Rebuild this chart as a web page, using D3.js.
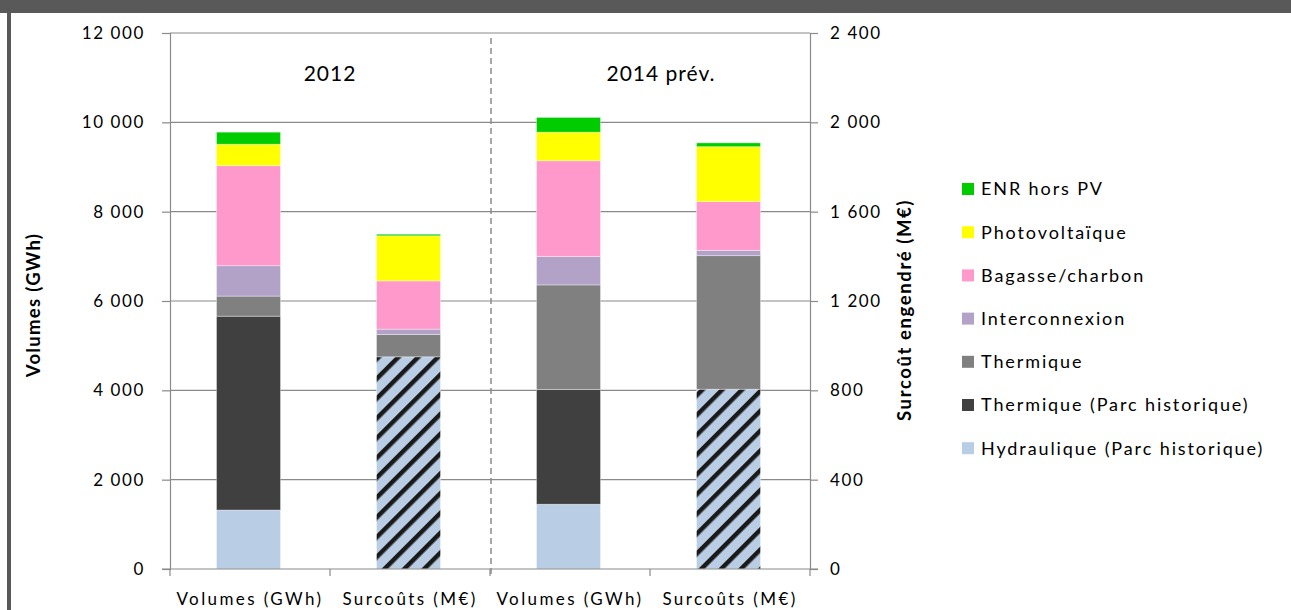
<!DOCTYPE html>
<html>
<head>
<meta charset="utf-8">
<script src="https://cdn.jsdelivr.net/npm/d3@7"></script>
<style>
  html, body { margin: 0; padding: 0; background: #fff; }
  svg { display: block; font-family: Lato, "Open Sans", sans-serif; }
</style>
</head>
<body>
<svg id="chart" width="1291" height="610"></svg>
<script>
// Column categories: volumes on the left axis, extra costs on the right axis
const categories = ["Volumes (GWh)", "Surcoûts (M€)", "Volumes (GWh)", "Surcoûts (M€)"];
const groups = ["2012", "2014 prév."];

// Stacked segments, bottom to top (GWh for volume columns, M€ for cost columns)
const hydraulique     = [1320,   0, 1450,   0];
const thermiqueHist   = [4340,   0, 2570,   0];
const parcHistorique  = [   0, 950,    0, 805];
const thermique       = [ 450, 100, 2340, 598];
const interconnexion  = [ 680,  24,  640,  24];
const bagasse         = [2240, 216, 2140, 218];
const photovoltaique  = [ 480, 202,  640, 246];
const enrHorsPV       = [ 270,   7,  330,  17];

const leftTicks  = [0, 2000, 4000, 6000, 8000, 10000, 12000];
const rightTicks = [0, 400, 800, 1200, 1600, 2000, 2400];

const seriesDefs = [
  { key: "hydraulique",    label: "Hydraulique (Parc historique)", color: "#b9cde5", values: hydraulique },
  { key: "thermiqueHist",  label: "Thermique (Parc historique)",   color: "#404040", values: thermiqueHist },
  { key: "parcHistorique", label: null,                            color: "url(#hatch)", values: parcHistorique },
  { key: "thermique",      label: "Thermique",                     color: "#808080", values: thermique },
  { key: "interconnexion", label: "Interconnexion",                color: "#b2a2c7", values: interconnexion },
  { key: "bagasse",        label: "Bagasse/charbon",               color: "#ff99cc", values: bagasse },
  { key: "photovoltaique", label: "Photovoltaïque",                color: "#ffff00", values: photovoltaique },
  { key: "enrHorsPV",      label: "ENR hors PV",                   color: "#00cc00", values: enrHorsPV }
];

const rows = categories.map((c, i) => {
  const r = { idx: i, cat: c };
  seriesDefs.forEach(s => r[s.key] = s.values[i]);
  return r;
});

const svg = d3.select("#chart");
const W = 1291, H = 610;
const plot = { left: 170, right: 810, top: 33, bottom: 569 };

// Frame
svg.append("rect").attr("x", 0).attr("y", 0).attr("width", W).attr("height", 13).attr("fill", "#595959");
svg.append("rect").attr("x", 7).attr("y", 0).attr("width", 4).attr("height", H).attr("fill", "#595959");

// Hatch pattern for the historical fleet cost
const defs = svg.append("defs");
const pat = defs.append("pattern")
  .attr("id", "hatch")
  .attr("patternUnits", "userSpaceOnUse")
  .attr("width", 14).attr("height", 14)
  .attr("patternTransform", "rotate(45)");
pat.append("rect").attr("width", 14).attr("height", 14).attr("fill", "#b9cde5");
pat.append("rect").attr("x", 0).attr("width", 4.5).attr("height", 14).attr("fill", "#1a1a1a");

const x = d3.scaleBand().domain(d3.range(categories.length))
  .range([plot.left, plot.right]).paddingInner(0.6).paddingOuter(0.3);
const band = d3.scaleBand().domain(d3.range(categories.length)).range([plot.left, plot.right]);
const yL = d3.scaleLinear().domain([0, 12000]).range([plot.bottom, plot.top]);
const yR = d3.scaleLinear().domain([0, 2400]).range([plot.bottom, plot.top]);
const yFor = i => (i % 2 === 0 ? yL : yR);

const fmt = v => d3.format(",")(v).replace(/,/g, " ");
const gridColor = "#8a8a8a";

// Gridlines
svg.append("g").selectAll("line").data(leftTicks.slice(1)).join("line")
  .attr("x1", plot.left).attr("x2", plot.right)
  .attr("y1", d => yL(d)).attr("y2", d => yL(d))
  .attr("stroke", gridColor).attr("stroke-width", 1.2);

// Left axis
const axL = svg.append("g").attr("transform", `translate(${plot.left},0)`)
  .call(d3.axisLeft(yL).tickValues(leftTicks).tickFormat(fmt).tickSize(8).tickPadding(17));
axL.select(".domain").attr("stroke", gridColor).attr("stroke-width", 1.2);
axL.selectAll(".tick line").attr("stroke", gridColor).attr("stroke-width", 1.2);
axL.selectAll("text").attr("font-size", 17).attr("fill", "#000")
  .attr("font-family", "Lato").style("letter-spacing", "1.6px");

// Right axis
const axR = svg.append("g").attr("transform", `translate(${plot.right},0)`)
  .call(d3.axisRight(yR).tickValues(rightTicks).tickFormat(fmt).tickSize(8).tickPadding(12));
axR.select(".domain").attr("stroke", gridColor).attr("stroke-width", 1.2);
axR.selectAll(".tick line").attr("stroke", gridColor).attr("stroke-width", 1.2);
axR.selectAll("text").attr("font-size", 17).attr("fill", "#000")
  .attr("font-family", "Lato").style("letter-spacing", "1.6px");

// Bars
const stack = d3.stack().keys(seriesDefs.map(s => s.key));
const stacked = stack(rows);
svg.append("g").selectAll("g").data(stacked).join("g")
  .attr("fill", (d, i) => seriesDefs[i].color)
  .selectAll("rect").data(d => d.filter(p => p[1] - p[0] > 0)).join("rect")
  .attr("x", p => x(p.data.idx) - 1.5)
  .attr("width", x.bandwidth())
  .attr("y", p => yFor(p.data.idx)(p[1]))
  .attr("height", p => yFor(p.data.idx)(p[0]) - yFor(p.data.idx)(p[1]))
  .attr("stroke", "rgba(255,255,255,0.45)").attr("stroke-width", 0.8);

// Bottom axis with category ticks
const axB = svg.append("g").attr("transform", `translate(0,${plot.bottom})`);
axB.append("line").attr("x1", plot.left - 8).attr("x2", plot.right + 8)
  .attr("stroke", gridColor).attr("stroke-width", 1.2);
const boundaries = d3.range(categories.length + 1).map(i => plot.left + i * band.bandwidth());
axB.selectAll("line.tk").data(boundaries).join("line").attr("class", "tk")
  .attr("x1", d => d).attr("x2", d => d).attr("y1", 0).attr("y2", 7)
  .attr("stroke", gridColor).attr("stroke-width", 1.2);
axB.selectAll("text").data(categories).join("text")
  .attr("x", (d, i) => band(i) + band.bandwidth() / 2)
  .attr("y", 36)
  .attr("text-anchor", "middle")
  .attr("font-size", 17).style("letter-spacing", "2.4px")
  .text(d => d);

// Dashed separator between years
svg.append("line")
  .attr("x1", plot.left + 2 * band.bandwidth() + 1).attr("x2", plot.left + 2 * band.bandwidth() + 1)
  .attr("y1", 38).attr("y2", plot.bottom + 8)
  .attr("stroke", "#8a8a8a").attr("stroke-width", 1.5).attr("stroke-dasharray", "6,4");

// Year labels
svg.append("g").selectAll("text").data(groups).join("text")
  .attr("x", (d, i) => (i === 0 ? plot.left + band.bandwidth() : plot.left + 3 * band.bandwidth() + 11))
  .attr("y", 81)
  .attr("text-anchor", "middle")
  .attr("font-size", 21).style("letter-spacing", "1px")
  .text(d => d);

// Axis titles
svg.append("text")
  .attr("transform", "translate(40,305) rotate(-90)")
  .attr("text-anchor", "middle").attr("font-weight", "bold")
  .attr("font-size", 18.5).style("letter-spacing", "1.3px")
  .text("Volumes (GWh)");
svg.append("text")
  .attr("transform", "translate(911,310) rotate(-90)")
  .attr("text-anchor", "middle").attr("font-weight", "bold")
  .attr("font-size", 18.5).style("letter-spacing", "1.6px")
  .text("Surcoût engendré (M€)");

// Legend (top to bottom mirrors the stack order)
const legendItems = seriesDefs.filter(s => s.label).reverse();
const lg = svg.append("g").selectAll("g").data(legendItems).join("g")
  .attr("transform", (d, i) => `translate(962,${189 + i * 43.2})`);
lg.append("rect").attr("x", 0).attr("y", -6).attr("width", 12).attr("height", 12).attr("fill", d => d.color);
lg.append("text").attr("x", 19).attr("y", 0).attr("dy", "0.36em")
  .attr("font-size", 18).style("letter-spacing", "1.9px")
  .text(d => d.label);
</script>
</body>
</html>
